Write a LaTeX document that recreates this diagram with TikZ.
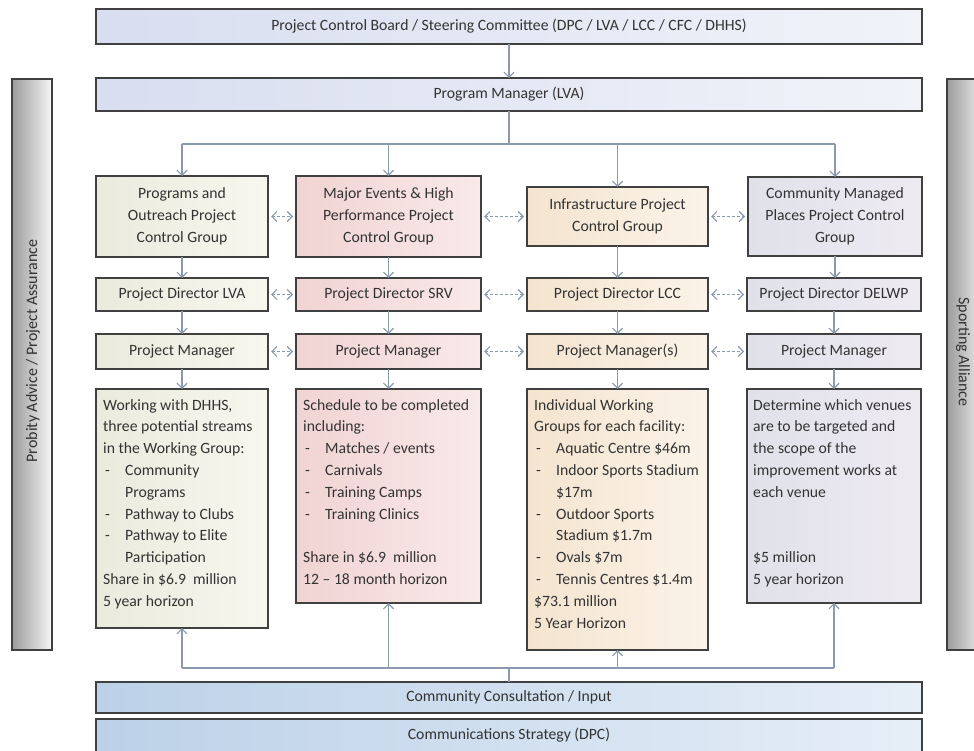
\documentclass[tikz,border=0pt]{standalone}
\usepackage{fontspec}
\setmainfont{Carlito}
\usetikzlibrary{arrows.meta,calc}
\definecolor{conn}{HTML}{8A9AAE}
\definecolor{bord}{HTML}{404040}
\definecolor{txt}{HTML}{333333}
\definecolor{topL}{HTML}{D8DEF0}
\definecolor{topR}{HTML}{F1F3F9}
\definecolor{botL}{HTML}{BCD1E8}
\definecolor{botM}{HTML}{CADCEE}
\definecolor{botR}{HTML}{E6EEF7}
\definecolor{aL}{HTML}{EAEADD}
\definecolor{aR}{HTML}{F7F7EF}
\definecolor{bL}{HTML}{F1D3D3}
\definecolor{bR}{HTML}{F9E9E9}
\definecolor{cL}{HTML}{F4E4CF}
\definecolor{cR}{HTML}{FBF3E9}
\definecolor{dL}{HTML}{E0E1E9}
\definecolor{dR}{HTML}{EEEAF2}
\definecolor{barL}{HTML}{9C9C9C}
\definecolor{barR}{HTML}{F6F6F6}
\newcommand{\itm}{\makebox[22pt][l]{\hspace{2pt}-}}
\newcommand{\cnt}{\hspace*{22pt}}
\begin{document}
\begin{tikzpicture}[x=1pt,y=-1pt,
  every node/.style={font=\fontsize{15.7}{22}\selectfont, text=txt},
  box/.style={draw=bord, line width=1.3pt, inner sep=0pt, outer sep=0pt, align=center, anchor=north west},
  bluebox/.style={box, left color=topL, right color=topR},
  botbox/.style={box, left color=botL, middle color=botM, right color=botR},
  fa/.style={box, left color=aL, right color=aR},
  fb/.style={box, left color=bL, right color=bR},
  fc/.style={box, left color=cL, right color=cR},
  fd/.style={box, left color=dL, right color=dR},
  bar/.style={box, left color=barL, right color=barR},
  dtext/.style={anchor=north west, inner sep=0pt, align=left, font=\fontsize{15.7}{21.8}\selectfont},
  conn/.style={draw=conn, line width=1.2pt},
  arr/.style={conn, -{Straight Barb[length=5pt,width=10pt]}},
  darr/.style={conn, dash pattern=on 3pt off 2pt, {Straight Barb[length=5pt,width=10pt]}-{Straight Barb[length=5pt,width=10pt]}, shorten <=3pt, shorten >=3pt}
]
\useasboundingbox (0,0) rectangle (974,751);
\clip (0,0) rectangle (974,751);
\fill[white] (0,0) rectangle (974,751);

% side bars
\node[bar, minimum width=40, minimum height=571] (lbar) at (12,79) {};
\node[rotate=90, font=\fontsize{16}{19}\selectfont] (lbartxt) at (33,351) {Probity Advice / Project Assurance};
\node[bar, minimum width=40, minimum height=571] (rbar) at (947,79) {};
\node[rotate=-90, font=\fontsize{16}{19}\selectfont] (rbartxt) at (963,352) {Sporting Alliance};

% top
\node[bluebox, minimum width=826, minimum height=35] (top) at (96,9) {Project Control Board / Steering Committee (DPC / LVA / LCC / CFC / DHHS)};
\node[bluebox, minimum width=826, minimum height=33] (pm) at (96,78) {Program Manager (LVA)};

% row 1
\node[fa, minimum width=172, minimum height=81] (g1) at (96,176) {Programs and\\Outreach Project\\Control Group};
\node[fb, minimum width=185, minimum height=81] (g2) at (296,176) {Major Events \& High\\Performance Project\\Control Group};
\node[fc, minimum width=181, minimum height=59] (g3) at (527,187) {Infrastructure Project\\Control Group};
\node[fd, minimum width=174, minimum height=79] (g4) at (748,177) {Community Managed\\Places Project Control\\Group};

% row 2
\node[fa, minimum width=172, minimum height=33] (d1) at (96,278) {Project Director LVA};
\node[fb, minimum width=185, minimum height=33] (d2) at (296,278) {Project Director SRV};
\node[fc, minimum width=181, minimum height=33] (d3) at (527,278) {Project Director LCC};
\node[fd, minimum width=174, minimum height=33] (d4) at (747,278) {Project Director DELWP};

% row 3
\node[fa, minimum width=172, minimum height=35] (m1) at (96,334) {Project Manager};
\node[fb, minimum width=185, minimum height=35] (m2) at (296,334) {Project Manager};
\node[fc, minimum width=181, minimum height=35] (m3) at (527,334) {Project Manager(s)};
\node[fd, minimum width=174, minimum height=35] (m4) at (747,334) {Project Manager};

% detail boxes
\node[fa, minimum width=172, minimum height=239] (w1) at (96,389) {};
\node[fb, minimum width=185, minimum height=214] (w2) at (296,389) {};
\node[fc, minimum width=181, minimum height=261] (w3) at (527,389) {};
\node[fd, minimum width=174, minimum height=214] (w4) at (747,389) {};

\node[dtext] (t1) at ($(w1.north west)+(7,10)$) {Working with DHHS,\\three potential streams\\in the Working Group:\\\itm Community\\\cnt Programs\\\itm Pathway to Clubs\\\itm Pathway to Elite\\\cnt Participation\\Share in \$6.9~ million\\5 year horizon};
\node[dtext] (t2) at ($(w2.north west)+(7,10)$) {Schedule to be completed\\including:\\\itm Matches / events\\\itm Carnivals\\\itm Training Camps\\\itm Training Clinics\\~\\Share in \$6.9~ million\\12 – 18 month horizon};
\node[dtext] (t3) at ($(w3.north west)+(7,10)$) {Individual Working\\Groups for each facility:\\\itm Aquatic Centre \$46m\\\itm Indoor Sports Stadium\\\cnt \$17m\\\itm Outdoor Sports\\\cnt Stadium \$1.7m\\\itm Ovals \$7m\\\itm Tennis Centres \$1.4m\\\$73.1 million\\5 Year Horizon};
\node[dtext] (t4) at ($(w4.north west)+(6,10)$) {Determine which venues\\are to be targeted and\\the scope of the\\improvement works at\\each venue\\~\\~\\\$5 million\\5 year horizon};

% bottom
\node[botbox, minimum width=826, minimum height=31] (cc) at (96,682) {Community Consultation / Input};
\node[botbox, minimum width=826, minimum height=36] (cs) at (96,719) {};
\node (cstxt) at (509,735) {Communications Strategy (DPC)};

% top connectors
\draw[arr] (top.south) -- (pm.north);
\coordinate (bus) at (509,144);
\draw[conn] (pm.south) -- (bus);
\draw[conn] (g1.north |- bus) -- (g4.north |- bus);
\foreach \n in {g1,g2,g3,g4} \draw[arr] (\n.north |- bus) -- (\n.north);

% column connectors
\foreach \c in {1,2,3,4} {
  \draw[arr] (g\c.south) -- (g\c.south |- d\c.north);
  \draw[arr] (d\c.south) -- (m\c.north);
  \draw[arr] (m\c.south) -- (w\c.north);
}

% dashed links
\foreach \r in {g,d,m} {
  \draw[darr] (\r1.east |- \r2.west) -- (\r2.west);
  \draw[darr] (\r2.east) -- (\r3.west |- \r2.east);
  \draw[darr] (\r3.east |- \r4.west) -- (\r4.west);
}

% bottom connectors
\coordinate (bbus) at (509,668);
\draw[conn] (cc.north) -- (bbus);
\draw[conn] (w1.south |- bbus) -- (w4.south |- bbus);
\foreach \n in {w1,w2,w3,w4} \draw[arr] (\n.south |- bbus) -- (\n.south);
\end{tikzpicture}
\end{document}
